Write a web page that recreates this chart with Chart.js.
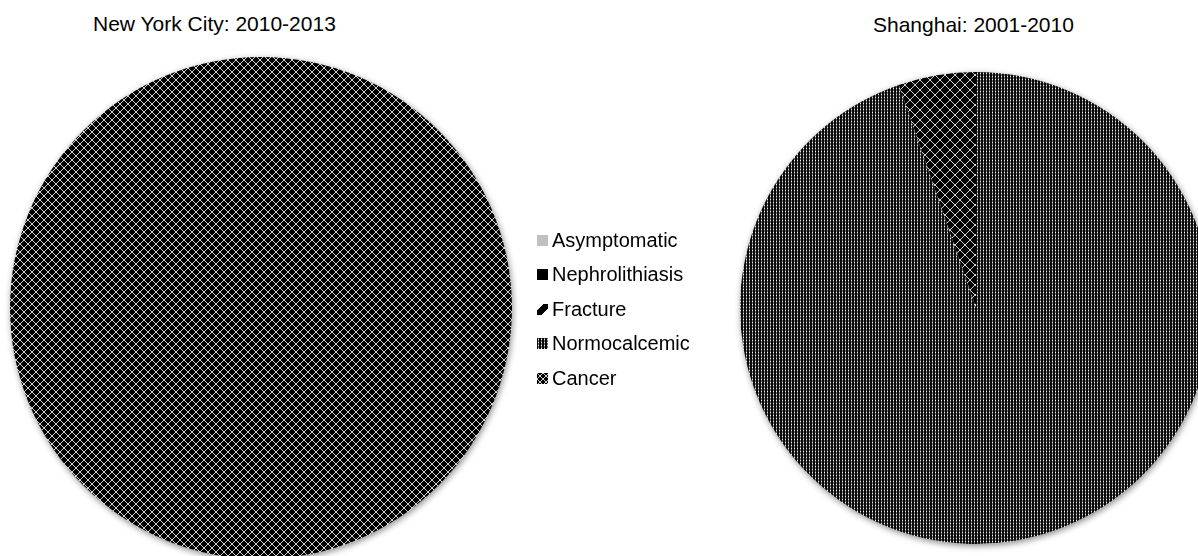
<!DOCTYPE html>
<html>
<head>
<meta charset="utf-8">
<script src="https://cdn.jsdelivr.net/npm/chart.js@4.4.0/dist/chart.umd.min.js"></script>
<style>
body{margin:0;width:1198px;height:556px;overflow:hidden;background:#fff;position:relative;font-family:"Liberation Sans",Arial,sans-serif;color:#000;}
.title{position:absolute;font-size:21px;line-height:24px;white-space:nowrap;}
#nyc{position:absolute;left:0;top:0;}
#shanghai{position:absolute;left:730px;top:0;}
#legend{position:absolute;left:537px;top:223px;}
.item{height:34.5px;display:flex;align-items:center;font-size:20px;white-space:nowrap;}
.item canvas{margin-right:4px;}
</style>
</head>
<body>
<div class="title" id="nycTitle" style="left:93px;top:12px"></div>
<div class="title" id="shTitle" style="left:873px;top:13px"></div>
<canvas id="nyc" width="522" height="570"></canvas>
<canvas id="shanghai" width="492" height="554"></canvas>
<div id="legend"></div>
<script>
const categories = ['Asymptomatic', 'Nephrolithiasis', 'Fracture', 'Normocalcemic', 'Cancer'];
const nycValues = [0, 0, 0, 0, 100];
const shanghaiValues = [0, 0, 0, 94.7, 5.3];
const nycTitle = 'New York City: 2010-2013';
const shanghaiTitle = 'Shanghai: 2001-2010';

document.getElementById('nycTitle').innerText = nycTitle;
document.getElementById('shTitle').innerText = shanghaiTitle;

// fill patterns (Excel-like)
function tile(size, paint){
  const c = document.createElement('canvas');
  c.width = size; c.height = size;
  const g = c.getContext('2d');
  paint(g, size);
  return c;
}

function fillFor(name, hatch){
  const g = document.createElement('canvas').getContext('2d');
  if(name === 'Asymptomatic') return '#c0c0c0';
  if(name === 'Nephrolithiasis') return '#000';
  if(name === 'Fracture'){
    return g.createPattern(tile(11, (t, s) => {
      t.fillStyle = '#fff'; t.fillRect(0, 0, s, s);
      t.fillStyle = '#000';
      for(let x = 0; x < s; x++) for(let y = 0; y < s; y++){
        if(Math.abs(x + y - 10) <= 4) t.fillRect(x, y, 1, 1);
      }
    }), 'repeat');
  }
  if(name === 'Normocalcemic'){
    return g.createPattern(tile(3, (t) => {
      t.fillStyle = '#0a0a0a'; t.fillRect(0, 0, 3, 3);
      t.fillStyle = '#6a6a6a'; t.fillRect(1, 0, 1, 3);
      t.fillStyle = '#eeeeee'; t.fillRect(1, 1, 1, 1);
    }), 'repeat');
  }
  // Cancer: diagonal crosshatch
  return g.createPattern(tile(hatch, (t, s) => {
    t.fillStyle = '#000'; t.fillRect(0, 0, s, s);
    t.fillStyle = '#cfcfcf';
    for(let i = 0; i < s; i++){
      t.fillRect(i, i, 1, 1);
      t.fillRect(s - 1 - i, i, 1, 1);
    }
  }), 'repeat');
}

// soft shadow under the whole pie
const pieShadow = {
  id: 'pieShadow',
  beforeDatasetsDraw(chart){
    const arc = chart.getDatasetMeta(0).data[0];
    if(!arc) return;
    const ctx = chart.ctx;
    ctx.save();
    ctx.shadowColor = 'rgba(0,0,0,0.45)';
    ctx.shadowBlur = 6;
    ctx.shadowOffsetX = 1;
    ctx.shadowOffsetY = 2;
    ctx.fillStyle = '#fff';
    ctx.beginPath();
    ctx.arc(arc.x, arc.y, arc.outerRadius, 0, Math.PI * 2);
    ctx.fill();
    ctx.restore();
  }
};

function makePie(id, values, pad, hatch){
  return new Chart(document.getElementById(id), {
    type: 'pie',
    data: {
      labels: categories,
      datasets: [{
        data: values,
        backgroundColor: categories.map(c => fillFor(c, hatch)),
        borderWidth: 0,
        hoverOffset: 0
      }]
    },
    options: {
      responsive: false,
      animation: false,
      layout: {padding: pad},
      plugins: {legend: {display: false}, tooltip: {enabled: false}}
    },
    plugins: [pieShadow]
  });
}

makePie('nyc', nycValues, {left: 10, right: 10, top: 57, bottom: 11}, 8);
makePie('shanghai', shanghaiValues, {left: 10, right: 10, top: 72, bottom: 10}, 10);

// shared legend
const legend = document.getElementById('legend');
categories.forEach(c => {
  const row = document.createElement('div');
  row.className = 'item';
  const m = document.createElement('canvas');
  m.width = 11; m.height = 11;
  const mctx = m.getContext('2d');
  mctx.fillStyle = fillFor(c, 6);
  mctx.fillRect(0, 0, 11, 11);
  row.appendChild(m);
  const label = document.createElement('span');
  label.innerText = c;
  row.appendChild(label);
  legend.appendChild(row);
});
</script>
</body>
</html>
